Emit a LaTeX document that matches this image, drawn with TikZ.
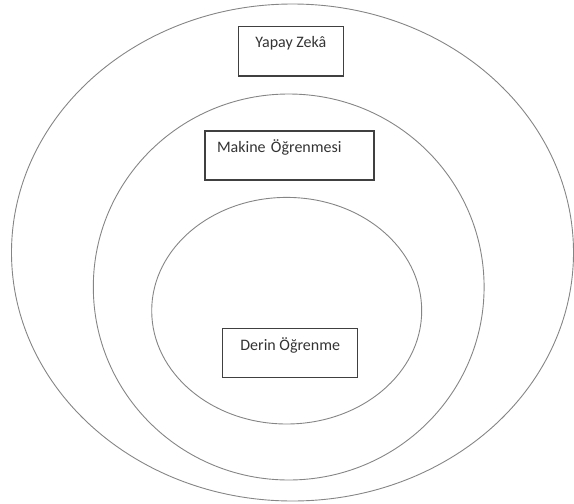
\documentclass[tikz,border=0pt]{standalone}
\usepackage{fontspec}
\setmainfont{Carlito}
\begin{document}
\begin{tikzpicture}[x=1pt,y=-1pt,
    ring/.style={draw=black!48, line width=0.9pt},
    fieldbox/.style={draw=black!75, line width=1.1pt, inner sep=0pt,
        font=\fontsize{16}{19}\selectfont, text=black!80, anchor=base}]
\useasboundingbox (0,0) rectangle (574,504);
% Nested fields
\draw[ring] (292.5,252.5) ellipse [x radius=281pt, y radius=248.5pt];
\draw[ring] (288.7,287) ellipse [x radius=195.4pt, y radius=193pt];
\draw[ring] (286.7,310.7) ellipse [x radius=135pt, y radius=113.3pt];
% Field names
\node[fieldbox, minimum width=105pt, text height=20.3pt, text depth=29pt]
    (ai) at (290.8,47) {Yapay Zekâ};
\node[fieldbox, text width=145pt, align=left, inner xsep=12pt,
    text height=21pt, text depth=28pt]
    (ml) at (289.5,152) {Makine Öğrenmesi};
\node[fieldbox, minimum width=135pt, text height=21.7pt, text depth=27.3pt]
    (dl) at (290.2,350) {Derin Öğrenme};
\end{tikzpicture}
\end{document}
